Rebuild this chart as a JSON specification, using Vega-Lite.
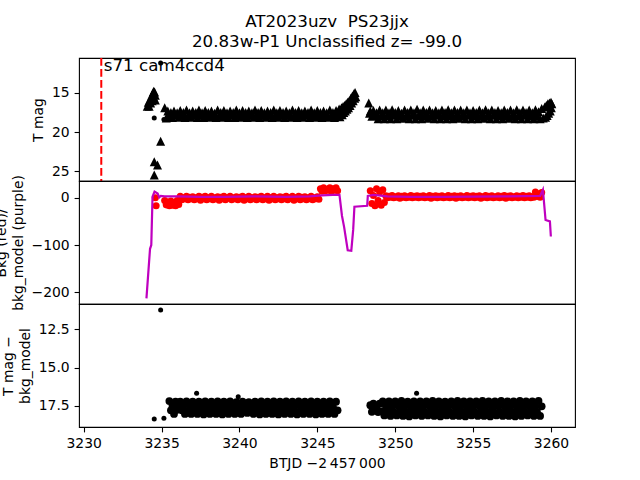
{
"$schema":"https://vega.github.io/schema/vega-lite/v6.json",
"autosize":{"type":"pad"},
"padding":{"left":-6,"top":13,"right":5,"bottom":5},
"background":"white",
"title":{"text":["AT2023uzv\u00a0 PS23jjx","20.83w-P1 Unclassified z= -99.0"],"font":"DejaVu Sans","fontSize":16.7,"fontWeight":"normal","lineHeight":20,"offset":-11,"anchor":"middle","frame":"group","baseline":"bottom","color":"black"},
"spacing":0,
"bounds":"flush",
"datasets":{
"ann":[{"t":3231.13,"tx":3231.29,"ty":12.2,"label":"s71 cam4ccd4"}],
"det":[{"t":3234.53,"m":18.2,"d":18.35},{"t":3234.6,"b":0},{"t":3234.65,"b":-17},{"t":3234.94,"m":11.2,"d":11.24},{"t":3235.15,"m":18.4,"d":18.3},{"t":3237.25,"d":16.67},{"t":3239.92,"d":16.9},{"t":3251.37,"d":16.67}],
"lim":[{"t":3234.08,"m":16.7},{"t":3234.15,"m":16.2},{"t":3234.2,"m":16.7},{"t":3234.25,"m":15.9},{"t":3234.3,"m":16.3},{"t":3234.35,"m":15.5},{"t":3234.4,"m":15.2},{"t":3234.4,"m":16.0},{"t":3234.45,"m":15.0},{"t":3234.5,"m":14.8},{"t":3234.5,"m":15.6},{"t":3234.55,"m":14.9},{"t":3234.6,"m":15.3},{"t":3234.6,"m":15.9},{"t":3234.94,"m":21.17},{"t":3234.53,"m":23.8},{"t":3234.74,"m":24.2},{"t":3234.53,"m":25.5}],
"model":[{"t":3234.03,"v":-213},{"t":3234.2,"v":-135},{"t":3234.26,"v":-108},{"t":3234.34,"v":-100},{"t":3234.42,"v":2},{"t":3234.55,"v":13},{"t":3234.75,"v":9},{"t":3234.85,"v":1},{"t":3234.95,"v":4},{"t":3235.2,"v":3},{"t":3236.0,"v":3},{"t":3237.5,"v":2},{"t":3239.0,"v":2},{"t":3241.0,"v":3},{"t":3243.0,"v":2},{"t":3244.5,"v":3},{"t":3245.3,"v":5},{"t":3246.0,"v":6},{"t":3246.42,"v":6},{"t":3246.58,"v":-38},{"t":3246.72,"v":-62},{"t":3246.95,"v":-111},{"t":3247.18,"v":-112},{"t":3247.3,"v":-68},{"t":3247.38,"v":-19},{"t":3248.2,"v":-17},{"t":3248.24,"v":4},{"t":3248.6,"v":6},{"t":3249.5,"v":3},{"t":3251.0,"v":2},{"t":3253.0,"v":2},{"t":3255.0,"v":2.5},{"t":3257.0,"v":3},{"t":3259.3,"v":4},{"t":3259.48,"v":17},{"t":3259.65,"v":-47},{"t":3259.93,"v":-50},{"t":3259.99,"v":-82}],
"obs":[
{"t":3235.2,"m":16.9,"b":-6},
{"t":3235.3,"m":18.2,"b":-15},
{"t":3235.4,"m":17.3,"b":-9},
{"t":3235.5,"m":17.9,"d":17.18,"b":-17},
{"t":3235.6,"m":17.5,"d":17.78,"b":-7},
{"t":3235.7,"m":18.15,"d":17.48,"b":-16},
{"t":3235.8,"m":17.3,"d":18.02,"b":-10},
{"t":3235.9,"m":17.8,"d":17.22,"b":-17},
{"t":3236.0,"m":17.55,"d":17.75,"b":-6},
{"t":3236.1,"m":18.1,"d":17.52,"b":-14},
{"t":3236.2,"m":17.25,"d":17.22,"b":3},
{"t":3236.3,"m":17.85,"d":17.78,"b":-4},
{"t":3236.4,"m":17.5,"d":17.48,"b":0},
{"t":3236.5,"m":18.15,"d":18.02,"b":-2},
{"t":3236.6,"m":17.2,"d":17.2,"b":3},
{"t":3236.7,"m":17.9,"d":17.82,"b":-4},
{"t":3236.8,"m":17.55,"d":17.45,"b":1},
{"t":3236.9,"m":18.1,"d":18.02,"b":-2},
{"t":3237.0,"m":17.3,"d":17.22,"b":2},
{"t":3237.1,"m":17.8,"d":17.78,"b":-4},
{"t":3237.2,"m":17.5,"d":17.48,"b":0},
{"t":3237.3,"m":18.15,"d":18.02,"b":-2},
{"t":3237.4,"m":17.2,"d":17.22,"b":3},
{"t":3237.5,"m":17.85,"d":17.78,"b":-5},
{"t":3237.6,"m":17.55,"d":17.52,"b":1},
{"t":3237.7,"m":18.15,"d":18.05,"b":-2},
{"t":3237.8,"m":17.25,"d":17.2,"b":3},
{"t":3237.9,"m":17.9,"d":17.75,"b":-4},
{"t":3238.0,"m":17.5,"d":17.48,"b":0},
{"t":3238.1,"m":18.1,"d":18.02,"b":-2},
{"t":3238.2,"m":17.3,"d":17.22,"b":3},
{"t":3238.3,"m":17.85,"d":17.78,"b":-4},
{"t":3238.4,"m":17.6,"d":17.48,"b":0},
{"t":3238.5,"m":18.15,"d":18.02,"b":-2},
{"t":3238.6,"m":17.2,"d":17.2,"b":2},
{"t":3238.7,"m":17.85,"d":17.82,"b":-5},
{"t":3238.8,"m":17.5,"d":17.52,"b":1},
{"t":3238.9,"m":18.1,"d":18.05,"b":-2},
{"t":3239.0,"m":17.25,"d":17.22,"b":3},
{"t":3239.1,"m":17.9,"d":17.78,"b":-4},
{"t":3239.2,"m":17.55,"d":17.48,"b":0},
{"t":3239.3,"m":18.15,"d":18.02,"b":-1},
{"t":3239.4,"m":17.3,"d":17.2,"b":3},
{"t":3239.5,"m":17.8,"d":17.78,"b":-4},
{"t":3239.6,"m":17.5,"d":17.45,"b":0},
{"t":3239.7,"m":18.15,"d":18.02,"b":-2},
{"t":3239.8,"m":17.2,"d":17.25,"b":2},
{"t":3239.9,"m":17.85,"d":17.78,"b":-4},
{"t":3240.0,"m":17.55,"d":17.48,"b":1},
{"t":3240.1,"m":18.1,"d":18.02,"b":-2},
{"t":3240.2,"m":17.25,"d":17.22,"b":3},
{"t":3240.3,"m":17.9,"d":17.78,"b":-5},
{"t":3240.4,"m":17.5,"d":17.52,"b":0},
{"t":3240.5,"m":18.15,"d":17.95,"b":-2},
{"t":3240.6,"m":17.3,"d":17.25,"b":3},
{"t":3240.7,"m":17.85,"d":17.75,"b":-4},
{"t":3240.8,"m":17.55,"d":17.45,"b":0},
{"t":3240.9,"m":18.1,"d":18.02,"b":-2},
{"t":3241.0,"m":17.2,"d":17.22,"b":2},
{"t":3241.1,"m":17.9,"d":17.78,"b":-4},
{"t":3241.2,"m":17.5,"d":17.48,"b":1},
{"t":3241.3,"m":18.15,"d":18.05,"b":-2},
{"t":3241.4,"m":17.25,"d":17.2,"b":3},
{"t":3241.5,"m":17.85,"d":17.78,"b":-4},
{"t":3241.6,"m":17.55,"d":17.52,"b":0},
{"t":3241.7,"m":18.1,"d":18.02,"b":-2},
{"t":3241.8,"m":17.3,"d":17.22,"b":3},
{"t":3241.9,"m":17.8,"d":17.82,"b":-5},
{"t":3242.0,"m":17.5,"d":17.48,"b":0},
{"t":3242.1,"m":18.15,"d":18.02,"b":-2},
{"t":3242.2,"m":17.2,"d":17.2,"b":3},
{"t":3242.3,"m":17.9,"d":17.78,"b":-4},
{"t":3242.4,"m":17.55,"d":17.48,"b":0},
{"t":3242.5,"m":18.1,"d":18.05,"b":-2},
{"t":3242.6,"m":17.25,"d":17.22,"b":2},
{"t":3242.7,"m":17.85,"d":17.78,"b":-4},
{"t":3242.8,"m":17.5,"d":17.52,"b":1},
{"t":3242.9,"m":18.15,"d":18.02,"b":-2},
{"t":3243.0,"m":17.3,"d":17.2,"b":3},
{"t":3243.1,"m":17.85,"d":17.75,"b":-4},
{"t":3243.2,"m":17.55,"d":17.48,"b":0},
{"t":3243.3,"m":18.1,"d":18.02,"b":-1},
{"t":3243.4,"m":17.2,"d":17.22,"b":3},
{"t":3243.5,"m":17.9,"d":17.78,"b":-5},
{"t":3243.6,"m":17.5,"d":17.45,"b":0},
{"t":3243.7,"m":18.15,"d":18.05,"b":-2},
{"t":3243.8,"m":17.25,"d":17.2,"b":3},
{"t":3243.9,"m":17.85,"d":17.82,"b":-4},
{"t":3244.0,"m":17.55,"d":17.52,"b":1},
{"t":3244.1,"m":18.1,"d":18.02,"b":-2},
{"t":3244.2,"m":17.3,"d":17.22,"b":2},
{"t":3244.3,"m":17.8,"d":17.78,"b":-4},
{"t":3244.4,"m":17.5,"d":17.48,"b":0},
{"t":3244.5,"m":18.15,"d":18.02,"b":-2},
{"t":3244.6,"m":17.2,"d":17.2,"b":3},
{"t":3244.7,"m":17.9,"d":17.78,"b":-4},
{"t":3244.8,"m":17.55,"d":17.52,"b":0},
{"t":3244.9,"m":18.1,"d":18.05,"b":-2},
{"t":3245.0,"m":17.25,"d":17.22,"b":2},
{"t":3245.1,"m":17.85,"d":17.78,"b":-3},
{"t":3245.2,"m":17.5,"d":17.48,"b":19},
{"t":3245.3,"m":18.15,"d":18.02,"b":14},
{"t":3245.4,"m":17.3,"d":17.22,"b":21},
{"t":3245.5,"m":17.85,"d":17.78,"b":15},
{"t":3245.6,"m":17.55,"d":17.48,"b":18},
{"t":3245.7,"m":18.1,"d":18.02,"b":16},
{"t":3245.8,"m":17.2,"d":17.2,"b":21},
{"t":3245.9,"m":17.9,"d":17.78,"b":14},
{"t":3246.0,"m":17.5,"d":17.52,"b":19},
{"t":3246.1,"m":18.15,"d":18.02,"b":16},
{"t":3246.2,"m":17.25,"d":17.22,"b":21},
{"t":3246.3,"m":17.85,"d":17.78,"b":15},
{"t":3246.4,"m":17.05},
{"t":3246.45,"m":18.05},
{"t":3246.5,"m":17.55},
{"t":3246.55,"m":16.9},
{"t":3246.6,"m":17.8},
{"t":3246.65,"m":16.75},
{"t":3246.7,"m":17.5},
{"t":3246.75,"m":16.6},
{"t":3246.8,"m":17.3},
{"t":3246.85,"m":16.4},
{"t":3246.9,"m":17.1},
{"t":3246.95,"m":16.2},
{"t":3247.0,"m":16.9},
{"t":3247.05,"m":16.0},
{"t":3247.1,"m":16.6},
{"t":3247.15,"m":15.7},
{"t":3247.2,"m":16.3},
{"t":3247.25,"m":15.4},
{"t":3247.3,"m":16.0},
{"t":3247.35,"m":15.1},
{"t":3247.4,"m":15.7},
{"t":3247.42,"m":14.95},
{"t":3247.47,"m":15.5},
{"t":3248.3,"m":16.3},
{"t":3248.35,"m":17.6},
{"t":3248.4,"m":17.3,"d":17.45,"b":15},
{"t":3248.5,"m":18.0,"d":17.88,"b":-12},
{"t":3248.6,"m":17.25,"d":17.35,"b":5},
{"t":3248.7,"m":17.9,"d":17.7,"b":-17},
{"t":3248.8,"m":17.55,"d":17.52,"b":19},
{"t":3248.9,"m":18.3,"d":17.9,"b":-6},
{"t":3249.0,"m":17.2,"d":17.35,"b":12},
{"t":3249.1,"m":17.9,"d":17.85,"b":-16},
{"t":3249.2,"m":17.55,"d":17.2,"b":17},
{"t":3249.3,"m":18.3,"d":18.12,"b":-10},
{"t":3249.4,"m":17.2,"d":17.52,"b":4},
{"t":3249.5,"m":17.9,"d":17.85,"b":0},
{"t":3249.6,"m":17.55,"d":17.2,"b":3},
{"t":3249.7,"m":18.3,"d":18.15,"b":1},
{"t":3249.8,"m":17.15,"d":17.52,"b":5},
{"t":3249.9,"m":17.85,"d":17.88,"b":0},
{"t":3250.0,"m":17.5,"d":17.2,"b":2},
{"t":3250.1,"m":18.3,"d":18.12,"b":1},
{"t":3250.2,"m":17.25,"d":17.5,"b":4},
{"t":3250.3,"m":17.9,"d":17.85,"b":-1},
{"t":3250.4,"m":17.6,"d":17.17,"b":3},
{"t":3250.5,"m":18.25,"d":18.15,"b":1},
{"t":3250.6,"m":17.2,"d":17.52,"b":4},
{"t":3250.7,"m":17.95,"d":17.88,"b":0},
{"t":3250.8,"m":17.5,"d":17.22,"b":2},
{"t":3250.9,"m":18.3,"d":18.18,"b":1},
{"t":3251.0,"m":17.2,"d":17.52,"b":5},
{"t":3251.1,"m":17.85,"d":17.85,"b":0},
{"t":3251.2,"m":17.55,"d":17.2,"b":3},
{"t":3251.3,"m":18.3,"d":18.12,"b":1},
{"t":3251.4,"m":17.1,"d":17.52,"b":4},
{"t":3251.5,"m":17.9,"d":17.85,"b":0},
{"t":3251.6,"m":17.55,"d":17.2,"b":3},
{"t":3251.7,"m":18.3,"d":18.15,"b":1},
{"t":3251.8,"m":17.2,"d":17.52,"b":4},
{"t":3251.9,"m":17.9,"d":17.88,"b":0},
{"t":3252.0,"m":17.5,"d":17.2,"b":2},
{"t":3252.1,"m":18.25,"d":18.12,"b":1},
{"t":3252.2,"m":17.2,"d":17.5,"b":5},
{"t":3252.3,"m":17.9,"d":17.85,"b":-1},
{"t":3252.4,"m":17.55,"d":17.17,"b":3},
{"t":3252.5,"m":18.3,"d":18.15,"b":1},
{"t":3252.6,"m":17.25,"d":17.52,"b":4},
{"t":3252.7,"m":17.85,"d":17.88,"b":0},
{"t":3252.8,"m":17.55,"d":17.2,"b":3},
{"t":3252.9,"m":18.3,"d":18.18,"b":1},
{"t":3253.0,"m":17.2,"d":17.52,"b":4},
{"t":3253.1,"m":17.9,"d":17.85,"b":0},
{"t":3253.2,"m":17.5,"d":17.22,"b":2},
{"t":3253.3,"m":18.3,"d":18.12,"b":1},
{"t":3253.4,"m":17.15,"d":17.52,"b":5},
{"t":3253.5,"m":17.9,"d":17.88,"b":0},
{"t":3253.6,"m":17.55,"d":17.2,"b":3},
{"t":3253.7,"m":18.3,"d":18.15,"b":1},
{"t":3253.8,"m":17.2,"d":17.5,"b":4},
{"t":3253.9,"m":17.95,"d":17.85,"b":-1},
{"t":3254.0,"m":17.5,"d":17.17,"b":3},
{"t":3254.1,"m":18.25,"d":18.15,"b":1},
{"t":3254.2,"m":17.2,"d":17.52,"b":4},
{"t":3254.3,"m":17.9,"d":17.88,"b":0},
{"t":3254.4,"m":17.55,"d":17.2,"b":2},
{"t":3254.5,"m":18.3,"d":18.18,"b":1},
{"t":3254.6,"m":17.2,"d":17.52,"b":5},
{"t":3254.7,"m":17.85,"d":17.85,"b":0},
{"t":3254.8,"m":17.55,"d":17.2,"b":3},
{"t":3254.9,"m":18.3,"d":18.12,"b":1},
{"t":3255.0,"m":17.25,"d":17.52,"b":4},
{"t":3255.1,"m":17.9,"d":17.88,"b":0},
{"t":3255.2,"m":17.5,"d":17.2,"b":3},
{"t":3255.3,"m":18.3,"d":18.15,"b":1},
{"t":3255.4,"m":17.2,"d":17.5,"b":4},
{"t":3255.5,"m":17.9,"d":17.85,"b":-1},
{"t":3255.6,"m":17.55,"d":17.17,"b":2},
{"t":3255.7,"m":18.25,"d":18.15,"b":1},
{"t":3255.8,"m":17.15,"d":17.52,"b":5},
{"t":3255.9,"m":17.9,"d":17.88,"b":0},
{"t":3256.0,"m":17.55,"d":17.2,"b":3},
{"t":3256.1,"m":18.3,"d":18.18,"b":1},
{"t":3256.2,"m":17.2,"d":17.52,"b":4},
{"t":3256.3,"m":17.85,"d":17.85,"b":0},
{"t":3256.4,"m":17.5,"d":17.2,"b":2},
{"t":3256.5,"m":18.3,"d":18.12,"b":1},
{"t":3256.6,"m":17.25,"d":17.5,"b":4},
{"t":3256.7,"m":17.9,"d":17.88,"b":0},
{"t":3256.8,"m":17.55,"d":17.17,"b":3},
{"t":3256.9,"m":18.3,"d":18.15,"b":1},
{"t":3257.0,"m":17.2,"d":17.52,"b":5},
{"t":3257.1,"m":17.9,"d":17.85,"b":-1},
{"t":3257.2,"m":17.5,"d":17.2,"b":3},
{"t":3257.3,"m":18.25,"d":18.15,"b":1},
{"t":3257.4,"m":17.2,"d":17.52,"b":4},
{"t":3257.5,"m":17.95,"d":17.88,"b":0},
{"t":3257.6,"m":17.55,"d":17.2,"b":2},
{"t":3257.7,"m":18.3,"d":18.18,"b":1},
{"t":3257.8,"m":17.15,"d":17.5,"b":4},
{"t":3257.9,"m":17.9,"d":17.85,"b":0},
{"t":3258.0,"m":17.55,"d":17.17,"b":3},
{"t":3258.1,"m":18.3,"d":18.15,"b":1},
{"t":3258.2,"m":17.2,"d":17.52,"b":5},
{"t":3258.3,"m":17.85,"d":17.88,"b":0},
{"t":3258.4,"m":17.5,"d":17.2,"b":3},
{"t":3258.5,"m":18.3,"d":18.12,"b":1},
{"t":3258.6,"m":17.2,"d":17.52,"b":4},
{"t":3258.7,"m":17.9,"d":17.85,"b":0},
{"t":3258.8,"m":17.55,"d":17.2,"b":2},
{"t":3258.9,"m":18.3,"d":18.15,"b":1},
{"t":3259.0,"m":17.15,"d":17.52,"b":12},
{"t":3259.1,"m":17.9,"d":17.88,"b":3},
{"t":3259.2,"m":17.4,"d":17.17,"b":8},
{"t":3259.3,"m":18.3,"d":18.15,"b":1},
{"t":3259.4,"m":17.0,"d":17.52,"b":11},
{"t":3259.5,"m":18.2},
{"t":3259.6,"m":16.8},
{"t":3259.65,"m":18.1},
{"t":3259.7,"m":16.6},
{"t":3259.75,"m":17.9},
{"t":3259.8,"m":16.4},
{"t":3259.85,"m":17.6},
{"t":3259.9,"m":16.3},
{"t":3259.95,"m":17.3},
{"t":3260.0,"m":16.2},
{"t":3260.02,"m":16.9},
{"t":3260.05,"m":16.4}
]},
"vconcat":[
{"width":496,"height":123,
 "encoding":{"x":{"field":"t","type":"quantitative","scale":{"domain":[3229.7,3261.54],"nice":false,"zero":false},"axis":null}},
 "layer":[
  {"data":{"name":"obs"},"transform":[{"filter":"isValid(datum.m)"}],
   "mark":{"type":"point","shape":"M0,-1L-1,1L1,1Z","filled":true,"color":"black","opacity":1,"size":81,"strokeWidth":0},
   "encoding":{"y":{"field":"m","type":"quantitative","title":"T mag","scale":{"domain":[10.55,26.25],"reverse":true,"nice":false,"zero":false},"axis":{"values":[15,20,25],"format":"d"}}}},
  {"data":{"name":"lim"},
   "mark":{"type":"point","shape":"M0,-1L-1,1L1,1Z","filled":true,"color":"black","opacity":1,"size":81,"strokeWidth":0},
   "encoding":{"y":{"field":"m","type":"quantitative","title":"T mag"}}},
  {"data":{"name":"det"},"transform":[{"filter":"isValid(datum.m)"}],
   "mark":{"type":"circle","color":"black","opacity":1,"size":25},
   "encoding":{"y":{"field":"m","type":"quantitative","title":"T mag"}}},
  {"data":{"name":"ann"},
   "mark":{"type":"rule","color":"#ff0000","strokeDash":[7.7,3.3],"strokeWidth":2},
   "encoding":{}},
  {"data":{"name":"ann"},
   "mark":{"type":"text","align":"left","baseline":"alphabetic","font":"DejaVu Sans","fontSize":16.7,"color":"black"},
   "encoding":{"x":{"field":"tx","type":"quantitative"},"y":{"field":"ty","type":"quantitative","title":"T mag"},"text":{"field":"label"}}}
 ]},
{"width":496,"height":123,
 "encoding":{"x":{"field":"t","type":"quantitative","scale":{"domain":[3229.7,3261.54],"nice":false,"zero":false},"axis":null}},
 "layer":[
  {"data":{"name":"obs"},"transform":[{"filter":"isValid(datum.b)"}],
   "mark":{"type":"circle","color":"#ff0000","opacity":1,"size":50},
   "encoding":{"y":{"field":"b","type":"quantitative","title":["Bkg (red)/","bkg_model (purple)"],"scale":{"domain":[-224.8,35.5],"nice":false,"zero":false},"axis":{"values":[-200,-100,0],"format":"d"}}}},
  {"data":{"name":"det"},"transform":[{"filter":"isValid(datum.b)"}],
   "mark":{"type":"circle","color":"#ff0000","opacity":1,"size":50},
   "encoding":{"y":{"field":"b","type":"quantitative","title":["Bkg (red)/","bkg_model (purple)"]}}},
  {"data":{"name":"model"},
   "mark":{"type":"line","color":"#bf00bf","strokeWidth":2.2},
   "encoding":{"y":{"field":"v","type":"quantitative","title":["Bkg (red)/","bkg_model (purple)"]}}}
 ]},
{"width":496,"height":123,
 "encoding":{"x":{"field":"t","type":"quantitative","scale":{"domain":[3229.7,3261.54],"nice":false,"zero":false},"axis":{"values":[3230,3235,3240,3245,3250,3255,3260],"format":"d","title":"BTJD −2\u2009457\u2009000"}}},
 "layer":[
  {"data":{"name":"obs"},"transform":[{"filter":"isValid(datum.d)"}],
   "mark":{"type":"circle","color":"black","opacity":1,"size":60},
   "encoding":{"y":{"field":"d","type":"quantitative","title":["T mag −","bkg_model"],"scale":{"domain":[10.85,18.87],"reverse":true,"nice":false,"zero":false},"axis":{"values":[12.5,15,17.5],"format":".1f"}}}},
  {"data":{"name":"det"},"transform":[{"filter":"isValid(datum.d)"}],
   "mark":{"type":"circle","color":"black","opacity":1,"size":25},
   "encoding":{"y":{"field":"d","type":"quantitative","title":["T mag −","bkg_model"]}}}
 ]}
],
"config":{
 "font":"DejaVu Sans",
 "view":{"stroke":"black","strokeWidth":1.1},
 "concat":{"spacing":0},
 "axis":{"grid":false,"domain":false,"ticks":true,"tickColor":"black","tickSize":4.9,"tickWidth":1.1,"labelFont":"DejaVu Sans","labelFontSize":13.9,"labelColor":"black","labelPadding":4.9,"labelFlush":false,"labelOverlap":false,"titleFont":"DejaVu Sans","titleFontSize":13.9,"titleFontWeight":"normal","titleColor":"black","titlePadding":5.6,"titleLineHeight":16.7}
}
}
